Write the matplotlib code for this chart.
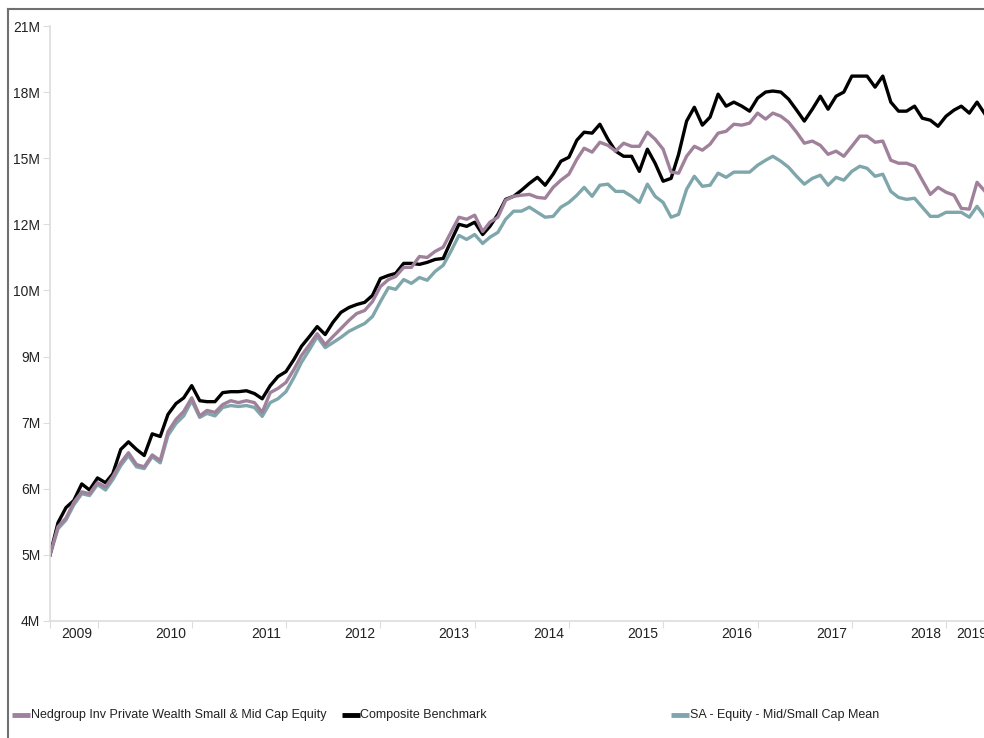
import numpy as np
import pandas as pd
import matplotlib
matplotlib.use("Agg")
import matplotlib.pyplot as plt
import matplotlib.dates as mdates
from matplotlib.lines import Line2D
from matplotlib.ticker import NullLocator

plt.rcParams['font.family'] = ['Liberation Sans', 'DejaVu Sans']

# growth of 5M, monthly from Jul 2009 (values in millions)
nedgroup = [
    5.00, 5.40, 5.53, 5.77, 5.94, 5.91, 6.09, 6.02, 6.19, 6.43,
    6.61, 6.40, 6.36, 6.57, 6.47, 7.00, 7.24, 7.40, 7.68, 7.31,
    7.42, 7.38, 7.54, 7.62, 7.58, 7.62, 7.58, 7.38, 7.79, 7.88,
    8.01, 8.30, 8.62, 8.88, 9.15, 8.88, 9.08, 9.28, 9.49, 9.67,
    9.75, 9.99, 10.41, 10.61, 10.70, 10.97, 10.97, 11.30, 11.27, 11.46,
    11.59, 12.07, 12.58, 12.51, 12.65, 12.10, 12.41, 12.58, 13.18, 13.32,
    13.36, 13.39, 13.28, 13.25, 13.65, 13.92, 14.15, 14.74, 15.19, 15.03,
    15.44, 15.31, 15.07, 15.40, 15.27, 15.27, 15.87, 15.57, 15.15, 14.23,
    14.19, 14.86, 15.27, 15.11, 15.36, 15.83, 15.91, 16.22, 16.18, 16.27,
    16.72, 16.45, 16.72, 16.58, 16.31, 15.87, 15.40, 15.49, 15.31, 14.94,
    15.07, 14.86, 15.27, 15.70, 15.70, 15.44, 15.49, 14.70, 14.58, 14.58,
    14.46, 13.92, 13.39, 13.65, 13.47, 13.36, 12.89, 12.86, 13.84, 13.50,
]
composite = [
    5.00, 5.46, 5.69, 5.80, 6.07, 5.97, 6.17, 6.09, 6.24, 6.67,
    6.81, 6.67, 6.56, 6.96, 6.91, 7.34, 7.56, 7.68, 7.94, 7.62,
    7.60, 7.60, 7.79, 7.81, 7.81, 7.83, 7.77, 7.66, 7.94, 8.14,
    8.25, 8.53, 8.84, 9.08, 9.33, 9.13, 9.44, 9.70, 9.83, 9.91,
    9.97, 10.16, 10.64, 10.73, 10.79, 11.09, 11.09, 11.06, 11.12, 11.21,
    11.24, 11.78, 12.34, 12.27, 12.41, 12.00, 12.27, 12.68, 13.21, 13.32,
    13.54, 13.80, 14.03, 13.73, 14.15, 14.66, 14.82, 15.53, 15.87, 15.83,
    16.22, 15.57, 15.07, 14.86, 14.86, 14.26, 15.15, 14.58, 13.88, 13.99,
    14.94, 16.36, 16.99, 16.18, 16.54, 17.61, 17.04, 17.23, 17.04, 16.81,
    17.42, 17.71, 17.76, 17.71, 17.37, 16.86, 16.36, 16.90, 17.51, 16.90,
    17.51, 17.71, 18.50, 18.50, 18.50, 17.95, 18.50, 17.23, 16.81, 16.81,
    17.04, 16.49, 16.40, 16.13, 16.58, 16.86, 17.04, 16.72, 17.23, 16.67,
]
sa_mean = [
    5.00, 5.37, 5.50, 5.73, 5.91, 5.88, 6.06, 5.97, 6.14, 6.38,
    6.56, 6.36, 6.33, 6.54, 6.43, 6.93, 7.16, 7.31, 7.62, 7.28,
    7.36, 7.31, 7.48, 7.52, 7.50, 7.52, 7.48, 7.30, 7.58, 7.66,
    7.81, 8.12, 8.46, 8.76, 9.08, 8.81, 8.93, 9.06, 9.21, 9.31,
    9.41, 9.59, 9.99, 10.38, 10.33, 10.61, 10.50, 10.67, 10.59, 10.85,
    11.03, 11.46, 11.97, 11.84, 12.00, 11.71, 11.91, 12.07, 12.51, 12.79,
    12.79, 12.93, 12.75, 12.58, 12.61, 12.93, 13.10, 13.36, 13.65, 13.32,
    13.73, 13.77, 13.50, 13.50, 13.32, 13.10, 13.77, 13.32, 13.10, 12.58,
    12.68, 13.58, 14.07, 13.69, 13.73, 14.19, 14.03, 14.23, 14.23, 14.23,
    14.50, 14.70, 14.86, 14.66, 14.42, 14.07, 13.77, 13.99, 14.11, 13.73,
    14.03, 13.92, 14.26, 14.46, 14.38, 14.07, 14.15, 13.50, 13.28, 13.21,
    13.25, 12.93, 12.61, 12.61, 12.75, 12.75, 12.75, 12.58, 12.96, 12.58,
]

series_names = ["Nedgroup Inv Private Wealth Small & Mid Cap Equity",
                "Composite Benchmark",
                "SA - Equity - Mid/Small Cap Mean"]
colors = ["#a0819b", "#000000", "#7fa6ab"]

y_labels = ["4M", "5M", "6M", "7M", "9M", "10M", "12M", "15M", "18M", "21M"]
y_ticks = 5 * 1.198 ** np.arange(-1, 9)
years = list(range(2009, 2020))

W, H = 984, 738
fig = plt.figure(figsize=(W / 100, H / 100), dpi=100)
ax = fig.add_axes([50 / W, 1 - 621 / H, (W - 50) / W, (621 - 26) / H])

dates = pd.date_range("2009-07-01", periods=len(nedgroup), freq="MS")

ax.plot(dates, sa_mean, color=colors[2], lw=2.4)
ax.plot(dates, composite, color=colors[1], lw=2.4)
ax.plot(dates, nedgroup, color=colors[0], lw=2.4)

ax.set_yscale('log')
ax.set_ylim(y_ticks[0], y_ticks[-1])
ax.yaxis.set_minor_locator(NullLocator())
ax.set_yticks(y_ticks)
ax.set_yticklabels(y_labels)
ax.tick_params(axis='y', length=5, color="#dddddd", pad=2, labelsize=10,
               labelcolor="#222222")

ax.set_xlim(dates[0], pd.Timestamp("2019-05-28"))
xt = [dates[0]] + [pd.Timestamp(f"{y}-01-01") for y in years[1:]]
ax.set_xticks(xt)
ax.tick_params(axis='x', length=5, color="#dddddd", labelbottom=False)

for y in years:
    if y < years[-1]:
        xd = mdates.date2num(pd.Timestamp(f"{y + 1}-01-01"))
        off, ha = -5, 'right'
    else:
        xd = mdates.date2num(pd.Timestamp(f"{y}-01-01"))
        off, ha = 10, 'left'
    ax.annotate(str(y), xy=(xd, 0), xycoords=('data', 'axes fraction'),
                xytext=(off, -13), textcoords='offset pixels',
                ha=ha, va='center', fontsize=10, color="#222222",
                annotation_clip=False)

for s in ['top', 'right']:
    ax.spines[s].set_visible(False)
for s in ['left', 'bottom']:
    ax.spines[s].set_color("#dddddd")
    ax.spines[s].set_linewidth(1.2)

# outer frame (cut off at right/bottom)
fig.add_artist(Line2D([8 / W, 8 / W], [0, 1 - 9 / H], color="#707070",
                      lw=1.5, transform=fig.transFigure))
fig.add_artist(Line2D([8 / W, 1], [1 - 9 / H, 1 - 9 / H], color="#707070",
                      lw=1.5, transform=fig.transFigure))

# legend in three fixed columns
ly = 1 - 715 / H
for k, (name, c) in enumerate(zip(series_names, colors)):
    x0 = 12 + 329.5 * k
    fig.add_artist(Line2D([x0 / W, (x0 + 18) / W], [ly, ly], color=c,
                          lw=3.5, transform=fig.transFigure,
                          solid_capstyle='butt'))
    fig.text((x0 + 19) / W, ly, name, va='center', ha='left', fontsize=9,
             color="#222222")

fig.savefig("out.png", dpi=100)
